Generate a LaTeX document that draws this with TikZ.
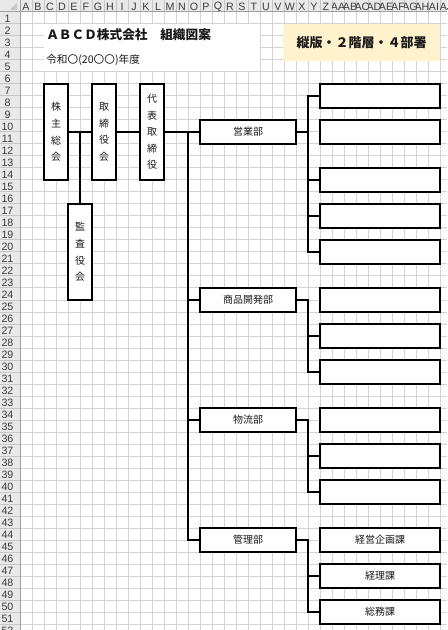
\documentclass[tikz,border=0pt]{standalone}
\usepackage{fontspec}
\setmainfont{Noto Sans CJK JP}
\newfontfamily\headfont{Liberation Sans}
\definecolor{OrgGrid}{RGB}{212,212,212}
\definecolor{OrgHeadFill}{RGB}{233,233,233}
\definecolor{OrgHeadLine}{RGB}{160,160,160}
\definecolor{OrgHeadText}{RGB}{60,60,60}
\definecolor{OrgBadge}{RGB}{255,242,204}
\definecolor{OrgInk}{RGB}{25,25,25}
\tikzset{
  org/vbox/.style={
    draw=black,
    line width=0.9pt,
    fill=white,
    minimum width=18pt,
    minimum height=72pt,
    inner sep=0pt,
    align=center,
    text=OrgInk,
    font=\fontsize{7.5}{12.4}\selectfont
  },
  org/dept/.style={
    draw=black,
    line width=0.9pt,
    fill=white,
    minimum width=72pt,
    minimum height=18pt,
    inner sep=0pt,
    text=OrgInk,
    font=\fontsize{7.5}{9}\selectfont
  },
  org/sect/.style={org/dept, minimum width=90pt},
  org/badge/.style={
    fill=OrgBadge,
    minimum width=117.75pt,
    minimum height=27.75pt,
    inner sep=0pt,
    text=OrgInk,
    font=\bfseries\fontsize{9.75}{11}\selectfont
  },
  org/link/.style={line width=0.8pt, draw=black, line cap=rect},
  org/grid/.style={draw=OrgGrid, line width=0.75pt},
  org/head/.style={font=\headfont\fontsize{8}{9}\selectfont, text=OrgHeadText, inner sep=0pt},
  org/title/.style={anchor=west, inner sep=0pt, text=OrgInk}
}

\begin{document}
\begin{tikzpicture}[x=0.75pt,y=-0.75pt]
  \useasboundingbox (0,0) rectangle (447,630);
  \fill[white] (0,0) rectangle (447,630);
  % sheet grid
  \foreach \k in {0,...,35} \draw[org/grid] (20+12*\k,12) -- (20+12*\k,630);
  \foreach \k in {1,...,52} \draw[org/grid] (20,12*\k) -- (447,12*\k);
  % column and row headers
  \fill[OrgHeadFill] (0,0) rectangle (447,12);
  \fill[OrgHeadFill] (0,0) rectangle (20,630);
  \fill[OrgHeadLine!60] (17,3) -- (17,10) -- (10,10) -- cycle;
  \foreach \lab [count=\k from 0] in {A,B,C,D,E,F,G,H,I,J,K,L,M,N,O,P,Q,R,S,T,U,V,W,X,Y,Z,AA,AB,AC,AD,AE,AF,AG,AH,AI,AJ}{
    \draw[OrgHeadLine!60, line width=0.75pt] (32+12*\k,0) -- (32+12*\k,12);
    \begin{scope}
      \clip (20+12*\k,0) rectangle (32+12*\k,12);
      \node[org/head] (col-\k) at (26+12*\k,6.5) {\lab};
    \end{scope}
  }
  \foreach \r in {1,...,52}{
    \draw[OrgHeadLine!60, line width=0.75pt] (0,12+12*\r) -- (20,12+12*\r);
    \node[org/head] (row-\r) at (7.5,6.5+12*\r) {\r};
  }
  \draw[OrgHeadLine, line width=0.75pt] (0,12) -- (447,12) (20,0) -- (20,630);
  % title block
  \fill[white] (43.5,24.5) rectangle (260,71.5);
  \node[org/title, font=\bfseries\fontsize{9.5}{11}\selectfont] (title) at (46,35) {ＡＢＣＤ株式会社　組織図案};
  \node[org/title, font=\fontsize{8}{10}\selectfont] (year) at (46,60) {令和〇(20〇〇)年度};
  \node[org/badge] (badge) at (361.5,42.5) {縦版・２階層・４部署};
  % top of the company
  \foreach \nm/\x/\y/\txt in {holders/56/132/{株\\主\\総\\会},board/104/132/{取\\締\\役\\会},
    ceo/152/132/{代\\表\\取\\締\\役},auditors/80/252/{監\\査\\役\\会}}
  {\node[org/vbox] (\nm) at (\x,\y) {\txt};}
  % departments
  \foreach \nm/\y/\txt in {sales/132/営業部,product/300/商品開発部,logistics/420/物流部,admin/540/管理部}
  {\node[org/dept] (\nm) at (248,\y) {\txt};}
  % sections
  \foreach \nm/\y/\txt in {sales1/96/{},sales2/132/{},sales3/180/{},sales4/216/{},sales5/252/{},
    product1/300/{},product2/336/{},product3/372/{},
    logistics1/420/{},logistics2/456/{},logistics3/492/{},
    admin1/540/経営企画課,admin2/576/経理課,admin3/612/総務課}
  {\node[org/sect] (\nm) at (380,\y) {\txt};}
  % connectors
  \coordinate (trunk) at (188,132);
  \coordinate (bus) at (308,132);
  \draw[org/link] (holders) -- (board);
  \draw[org/link] (holders.east -| auditors.north) -- (auditors.north);
  \draw[org/link] (board) -- (ceo);
  \draw[org/link] (ceo) -- (sales);
  \draw[org/link] (trunk) |- (admin.west);
  \foreach \d in {product,logistics} \draw[org/link] (trunk |- \d.west) -- (\d.west);
  \foreach \d/\a/\b in {sales/sales1/sales5,product/product1/product3,
    logistics/logistics1/logistics3,admin/admin1/admin3}{
    \draw[org/link] (\d.east) -- (bus |- \d.east);
    \draw[org/link] (bus |- \a.west) -- (bus |- \b.west);
  }
  \foreach \s in {sales1,sales3,sales4,sales5,product2,product3,logistics2,logistics3,admin2,admin3}
    \draw[org/link] (bus |- \s.west) -- (\s.west);
\end{tikzpicture}
\end{document}
